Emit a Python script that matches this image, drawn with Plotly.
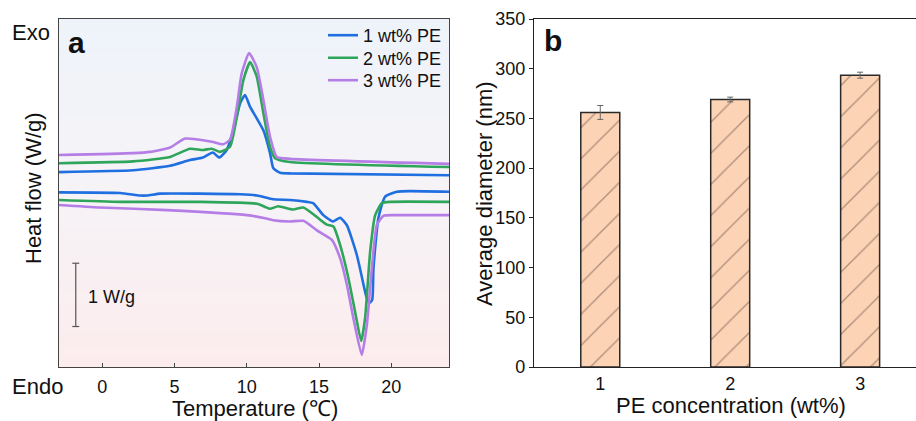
import plotly.graph_objects as go

FONT = "Liberation Sans, Arial, sans-serif"

# ---------------- Panel a: DSC curves (T in degC, heat flow in W/g, stacked offsets)
samples = ["1 wt% PE", "2 wt% PE", "3 wt% PE"]
colors = ["#1f6fe0", "#2ea55a", "#b57de6"]

cool_T_1 = [-3.0, 2.13, 4.69, 6.07, 6.97, 7.65, 8.10, 8.61, 9.07, 9.54, 9.88, 10.23, 10.69, 11.15, 11.61, 11.84, 12.31, 13.0, 24.0]
cool_Q_1 = [3.08, 3.11, 3.18, 3.27, 3.31, 3.39, 3.31, 3.43, 3.74, 4.17, 4.30, 4.11, 3.93, 3.74, 3.38, 3.14, 3.07, 3.06, 3.03]

cool_T_2 = [-3.0, 2.13, 4.69, 6.07, 6.97, 7.58, 8.15, 8.84, 9.31, 9.76, 10.23, 10.69, 11.15, 11.61, 11.96, 13.0, 24.0]
cool_Q_2 = [3.22, 3.25, 3.32, 3.45, 3.43, 3.45, 3.40, 3.48, 3.95, 4.53, 4.82, 4.59, 4.01, 3.48, 3.30, 3.24, 3.16]

cool_T_3 = [-3.0, 2.13, 3.30, 4.69, 5.73, 7.58, 8.36, 8.84, 9.31, 9.65, 10.16, 10.69, 11.15, 11.61, 12.08, 13.0, 24.0]
cool_Q_3 = [3.35, 3.38, 3.40, 3.47, 3.61, 3.56, 3.52, 3.59, 4.11, 4.64, 4.96, 4.74, 4.22, 3.64, 3.32, 3.29, 3.21]

heat_T_1 = [-3.0, 1.23, 2.61, 3.10, 4.0, 6.77, 9.54, 10.71, 11.82, 13.0, 14.16, 14.59, 15.30, 15.96, 16.46, 16.93, 17.62, 18.19, 18.31, 18.47, 18.68, 18.77, 19.11, 19.57, 20.39, 21.31, 24.0]
heat_Q_1 = [2.76, 2.75, 2.71, 2.71, 2.74, 2.74, 2.73, 2.71, 2.65, 2.64, 2.61, 2.59, 2.40, 2.30, 2.36, 2.24, 1.77, 1.19, 1.09, 1.01, 1.06, 1.56, 2.35, 2.69, 2.77, 2.78, 2.77]

heat_T_2 = [-3.0, 1.23, 6.77, 10.71, 11.27, 11.61, 12.17, 13.21, 13.92, 14.85, 15.54, 16.00, 16.46, 17.04, 17.50, 17.92, 18.19, 18.54, 18.89, 19.35, 19.92, 24.0]
heat_Q_2 = [2.64, 2.61, 2.61, 2.58, 2.53, 2.50, 2.54, 2.49, 2.52, 2.37, 2.25, 2.22, 1.93, 1.40, 0.87, 0.41, 0.77, 1.82, 2.40, 2.59, 2.61, 2.61]

heat_T_3 = [-3.0, -0.16, 4.48, 10.02, 11.27, 11.82, 13.0, 13.92, 14.85, 15.89, 16.46, 16.93, 17.38, 17.96, 18.31, 18.66, 19.00, 19.46, 20.39, 24.0]
heat_Q_3 = [2.56, 2.52, 2.48, 2.40, 2.35, 2.32, 2.30, 2.31, 2.16, 2.01, 1.72, 1.30, 0.77, 0.19, 0.66, 1.56, 2.24, 2.39, 2.40, 2.40]

temp_ticks = [0, 5, 10, 15, 20]

# scale bar (1 W/g)
scale_T = -1.84
scale_Q = [0.64, 1.64]

# ---------------- Panel b: bar chart
conc = [1, 2, 3]
diam = [256, 269, 293.5]
diam_err = [7, 2.4, 3]
diam_ticks = [0, 50, 100, 150, 200, 250, 300, 350]

W, H = 916, 421
def px_x(p): return p / W
def px_y(p): return 1 - p / H

fig = go.Figure()

legend_names = ["legend", "legend2", "legend3"]
cool = [(cool_T_1, cool_Q_1), (cool_T_2, cool_Q_2), (cool_T_3, cool_Q_3)]
heat = [(heat_T_1, heat_Q_1), (heat_T_2, heat_Q_2), (heat_T_3, heat_Q_3)]
for i in range(3):
    fig.add_trace(go.Scatter(x=cool[i][0], y=cool[i][1], mode="lines", name=samples[i],
                             line=dict(color=colors[i], width=2.6, shape="spline", smoothing=0.5),
                             legend=legend_names[i], xaxis="x", yaxis="y"))
for i in range(3):
    fig.add_trace(go.Scatter(x=heat[i][0], y=heat[i][1], mode="lines", name=samples[i],
                             line=dict(color=colors[i], width=2.6, shape="spline", smoothing=0.5),
                             showlegend=False, xaxis="x", yaxis="y"))

# scale bar
cap = 0.24
fig.add_trace(go.Scatter(
    x=[scale_T, scale_T, None, scale_T - cap, scale_T + cap, None, scale_T - cap, scale_T + cap],
    y=[scale_Q[0], scale_Q[1], None, scale_Q[0], scale_Q[0], None, scale_Q[1], scale_Q[1]],
    mode="lines", line=dict(color="#555555", width=1.2), showlegend=False, hoverinfo="skip",
    xaxis="x", yaxis="y"))

fig.add_trace(go.Bar(x=conc, y=diam, width=0.3, showlegend=False,
                     marker=dict(color="#fdd3b5", line=dict(color="#2a2a2a", width=1.5),
                                 pattern=dict(shape="/", fgcolor="#5e4a40", bgcolor="#fdd3b5",
                                              size=22, solidity=0.06)),
                     error_y=dict(type="data", array=diam_err, color="#666666", thickness=1, width=3),
                     xaxis="x2", yaxis="y2"))

# gradient background in panel a
shapes = []
N = 60
top = (238, 243, 250)
mid = (246, 243, 247)
bot = (252, 236, 237)
for k in range(N):
    f = (k + 0.5) / N  # 0 at bottom, 1 at top
    if f > 0.5:
        g = (f - 0.5) / 0.5
        c = [round(mid[j] + (top[j] - mid[j]) * g) for j in range(3)]
    else:
        g = f / 0.5
        c = [round(bot[j] + (mid[j] - bot[j]) * g) for j in range(3)]
    shapes.append(dict(type="rect", xref="x domain", yref="y domain", x0=0, x1=1,
                       y0=k / N, y1=(k + 1) / N + 0.002, fillcolor="rgb(%d,%d,%d)" % tuple(c),
                       line=dict(width=0), layer="below"))

ydom = [px_y(367), px_y(19)]
axis_line = "#444444"
legend_tops = [17, 39.5, 62]
leg_common = dict(x=px_x(323), xanchor="left", yanchor="top",
                  bgcolor="rgba(0,0,0,0)", font=dict(size=18, family=FONT, color="#111111"))
fig.update_layout(
    width=W, height=H, margin=dict(l=0, r=0, t=0, b=0, autoexpand=False),
    paper_bgcolor="white", plot_bgcolor="white",
    font=dict(family=FONT, size=18, color="#111111"),
    shapes=shapes,
    xaxis=dict(domain=[px_x(59), px_x(449)], range=[-3, 24], tickvals=temp_ticks,
               ticks="inside", ticklen=4, tickcolor=axis_line, showline=True, linecolor=axis_line,
               linewidth=1.2, mirror=True, showgrid=False, zeroline=False, automargin=False,
               tickfont=dict(size=18), ticklabelstandoff=3, anchor="y"),
    yaxis=dict(domain=ydom, range=[0, 5.50], showticklabels=False, ticks="",
               showline=True, linecolor=axis_line, linewidth=1.2, mirror=True, automargin=False,
               showgrid=False, zeroline=False, anchor="x"),
    xaxis2=dict(domain=[px_x(534), 1.0], range=[0.49, 3.43], tickvals=conc, ticks="",
                showline=True, linecolor="#222222", linewidth=1.3, mirror=True, automargin=False,
                showgrid=False, zeroline=False, tickfont=dict(size=18), anchor="y2"),
    yaxis2=dict(domain=ydom, range=[0, 350], tickvals=diam_ticks, ticks="outside", ticklen=4,
                tickcolor="#222222", showline=True, linecolor="#222222", linewidth=1.3,
                automargin=False,
                showgrid=False, zeroline=False, tickfont=dict(size=18), anchor="x2"),
    legend=dict(y=px_y(legend_tops[0]), **leg_common),
    legend2=dict(y=px_y(legend_tops[1]), **leg_common),
    legend3=dict(y=px_y(legend_tops[2]), **leg_common),
)

ann = [
    dict(text="Exo", x=px_x(31), y=px_y(32), size=22),
    dict(text="Endo", x=px_x(37), y=px_y(386), size=22),
    dict(text="<b>a</b>", x=px_x(76), y=px_y(42), size=30),
    dict(text="<b>b</b>", x=px_x(553), y=px_y(41), size=30),
    dict(text="1 W/g", x=px_x(111), y=px_y(297), size=18),
    dict(text="Temperature (℃)", x=px_x(255), y=px_y(408), size=22),
    dict(text="PE concentration (wt%)", x=px_x(731), y=px_y(405), size=22),
]
for a in ann:
    fig.add_annotation(text=a["text"], x=a["x"], y=a["y"], xref="paper", yref="paper",
                       showarrow=False, xanchor="center", yanchor="middle",
                       font=dict(size=a["size"], family=FONT, color="#111111"))
fig.add_annotation(text="Heat flow (W/g)", x=px_x(34), y=px_y(188), xref="paper", yref="paper",
                   showarrow=False, textangle=-90, xanchor="center", yanchor="middle",
                   font=dict(size=22, family=FONT, color="#111111"))
fig.add_annotation(text="Average diameter (nm)", x=px_x(484), y=px_y(194), xref="paper", yref="paper",
                   showarrow=False, textangle=-90, xanchor="center", yanchor="middle",
                   font=dict(size=22, family=FONT, color="#111111"))

fig.write_html("out.html", config={"displayModeBar": False},
               post_script="document.body.style.margin='0';document.body.style.padding='0';"
                           "document.body.style.overflow='hidden';")
